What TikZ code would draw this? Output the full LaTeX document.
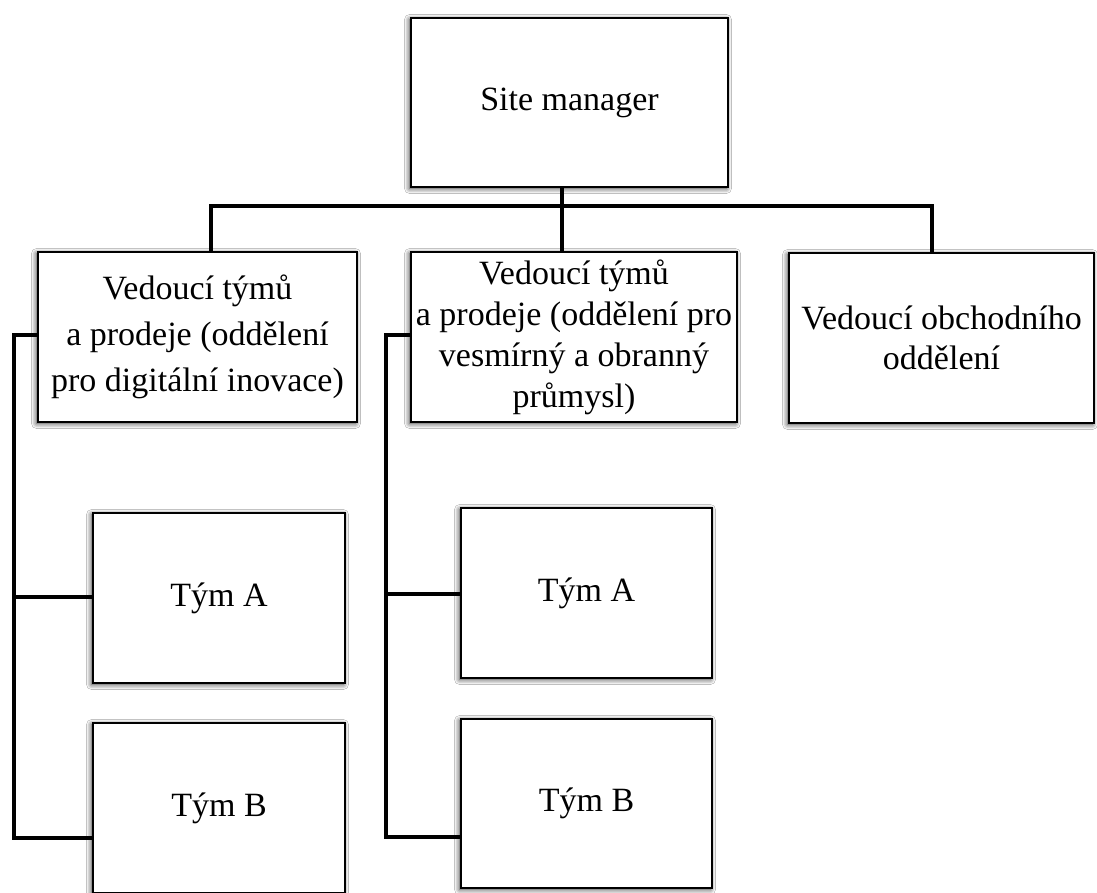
\documentclass[tikz,border=0pt]{standalone}
\usepackage{fontspec}
\setmainfont{Liberation Serif}
\usetikzlibrary{shadows.blur}
\begin{document}
\begin{tikzpicture}[x=1pt,y=-1pt,
  box/.style={draw=black, line width=2.6pt, fill=white, inner sep=0pt, align=center,
    font=\fontsize{34}{46}\selectfont,
    blur shadow={shadow xshift=-1.5pt, shadow yshift=-1.5pt, shadow blur radius=5pt, shadow opacity=85}},
  conn/.style={draw=black, line width=3.4pt}]
\useasboundingbox (0,0) rectangle (1097,893);
\fill[white] (0,0) rectangle (1097,893);
% nodes
\node[box, minimum width=317pt, minimum height=169pt] (sm) at (569.5,102.5) {Site manager};
\node[box, minimum width=319pt, minimum height=170pt] (l1) at (197.5,337) {Vedoucí týmů\\ a prodeje (oddělení\\ pro digitální inovace)};
\node[box, minimum width=326pt, minimum height=170pt, font=\fontsize{34}{41}\selectfont] (m1) at (574,337) {Vedoucí týmů\\ a prodeje (oddělení pro\\ vesmírný a obranný\\ průmysl)};
\node[box, minimum width=305pt, minimum height=170pt, font=\fontsize{34}{40}\selectfont] (r1) at (941.5,338) {Vedoucí obchodního\\ oddělení};
\node[box, minimum width=252pt, minimum height=170pt] (ta1) at (219,598) {Tým A};
\node[box, minimum width=252pt, minimum height=170pt] (tb1) at (219,808) {Tým B};
\node[box, minimum width=251pt, minimum height=170pt] (ta2) at (586.5,593) {Tým A};
\node[box, minimum width=251pt, minimum height=169pt] (tb2) at (586.5,803.5) {Tým B};
% coordinates
\coordinate (jl) at (211,206);
\coordinate (jm) at (562,206);
\coordinate (jr) at (932,206);
\coordinate (lt) at (14,335);
\coordinate (lA) at (14,597);
\coordinate (lB) at (14,838);
\coordinate (mt) at (386,335);
\coordinate (mA) at (386,594);
\coordinate (mB) at (386,837);
% connectors
\draw[conn] (sm.south -| jm) -- (jm |- m1.north);
\draw[conn] (jl |- l1.north) -- (jl) -- (jr) -- (jr |- r1.north);
\draw[conn] (l1.west |- lt) -- (lt) -- (lB) -- (tb1.west |- lB);
\draw[conn] (lA) -- (ta1.west |- lA);
\draw[conn] (m1.west |- mt) -- (mt) -- (mB) -- (tb2.west |- mB);
\draw[conn] (mA) -- (ta2.west |- mA);
\end{tikzpicture}
\end{document}
